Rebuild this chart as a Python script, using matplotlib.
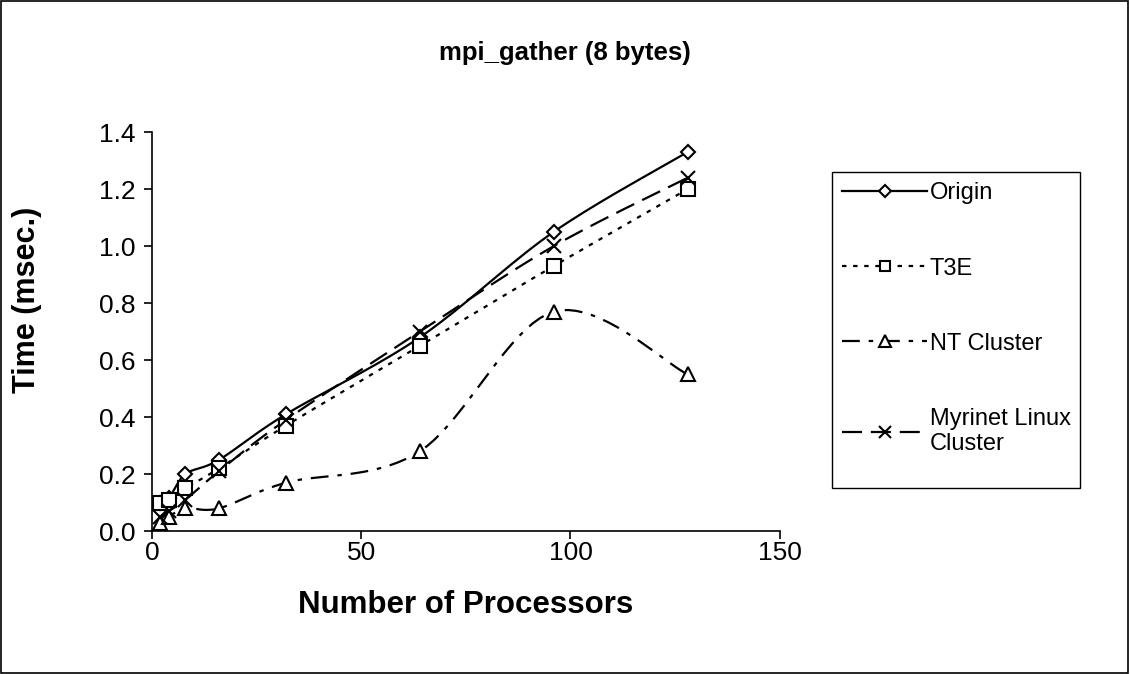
import numpy as np
import matplotlib
matplotlib.use("Agg")
from matplotlib import pyplot as plt
from matplotlib.patches import Rectangle

plt.rcParams['font.family'] = ['Liberation Sans', 'DejaVu Sans']

procs = [2, 4, 8, 16, 32, 64, 96, 128]
origin = [0.10, 0.115, 0.20, 0.25, 0.41, 0.68, 1.05, 1.33]
t3e = [0.10, 0.11, 0.15, 0.22, 0.37, 0.65, 0.93, 1.20]
nt_cluster = [0.03, 0.05, 0.08, 0.08, 0.17, 0.28, 0.77, 0.55]
myrinet = [0.05, 0.07, 0.11, 0.21, 0.39, 0.70, 1.00, 1.24]

labels = ['Origin', 'T3E', 'NT Cluster', 'Myrinet Linux\nCluster']
markers = ['D', 's', '^', 'x']
msizes = [7.5, 9.5, 10, 10]
styles = ['-', (0, (2, 3)), (0, (8, 4, 2, 4)), (0, (9, 4))]


def smooth(x, y, n=20):
    # catmull-rom curve through the points, like Excel's smoothed lines
    x = np.asarray(x, float)
    y = np.asarray(y, float)
    px = np.concatenate([[x[0]], x, [x[-1]]])
    py = np.concatenate([[y[0]], y, [y[-1]]])
    xs, ys = [], []
    t = np.linspace(0, 1, n)
    for i in range(1, len(px) - 2):
        for arr, out in ((px, xs), (py, ys)):
            p0, p1, p2, p3 = arr[i - 1], arr[i], arr[i + 1], arr[i + 2]
            m1 = (p2 - p0) / 2
            m2 = (p3 - p1) / 2
            h00 = 2 * t**3 - 3 * t**2 + 1
            h10 = t**3 - 2 * t**2 + t
            h01 = -2 * t**3 + 3 * t**2
            h11 = t**3 - t**2
            out.extend(h00 * p1 + h10 * m1 + h01 * p2 + h11 * m2)
    return np.array(xs), np.array(ys)


fig = plt.figure(figsize=(11.3, 6.74), dpi=100)
ax = fig.add_axes([0.1345, 0.212, 0.5555, 0.592])

handles = []
for ys, lab, mk, ms, ls in zip([origin, t3e, nt_cluster, myrinet], labels, markers, msizes, styles):
    sx, sy = smooth(procs, ys)
    ax.plot(sx, sy, color='black', lw=1.6, linestyle=ls)
    ax.plot(procs, ys, linestyle='none', marker=mk, ms=ms, mfc='white',
            mec='black', mew=1.5, zorder=3)
    h, = ax.plot([], [], color='black', lw=1.6, linestyle=ls, marker=mk, ms=ms * 0.8,
                 mfc='white', mec='black', mew=1.5)
    handles.append(h)

ax.set_xlim(0, 150)
ax.set_ylim(0, 1.4)
ax.set_xticks([0, 50, 100, 150])
ax.set_yticks(np.arange(0, 1.41, 0.2))
ax.yaxis.set_major_formatter(matplotlib.ticker.FormatStrFormatter('%.1f'))
ax.spines['top'].set_visible(False)
ax.spines['right'].set_visible(False)
ax.spines['left'].set_linewidth(1.2)
ax.spines['bottom'].set_linewidth(1.2)
ax.tick_params(labelsize=19, length=6, width=1.2, direction='out')
ax.tick_params(axis='x', pad=1)
ax.tick_params(axis='y', pad=6)
ax.set_xlabel('Number of Processors', fontsize=22.5, fontweight='bold')
ax.xaxis.set_label_coords(0.5, -0.148)
ax.set_ylabel('Time (msec.)', fontsize=22, fontweight='bold')
ax.yaxis.set_label_coords(-0.175, 0.58)

fig.text(0.5, 0.922, 'mpi_gather (8 bytes)', ha='center', va='center',
         fontsize=18.5, fontweight='bold')

# legend box drawn separately so the bottom gap matches
fig.patches.append(Rectangle((832 / 1130, 1 - 488 / 674), 248 / 1130, 316 / 674,
                             transform=fig.transFigure, fill=False,
                             edgecolor='black', lw=1.0))
leg = fig.legend(handles, labels, loc='upper left', bbox_to_anchor=(0.736, 0.745),
                 fontsize=17, frameon=False,
                 handlelength=3.6, handletextpad=0.1, labelspacing=2.25,
                 borderpad=0.45, borderaxespad=0)

fig.patches.append(Rectangle((0.001, 0.002), 0.997, 0.996, transform=fig.transFigure,
                             fill=False, edgecolor='black', lw=1.2))

fig.savefig('out.png', dpi=100)
